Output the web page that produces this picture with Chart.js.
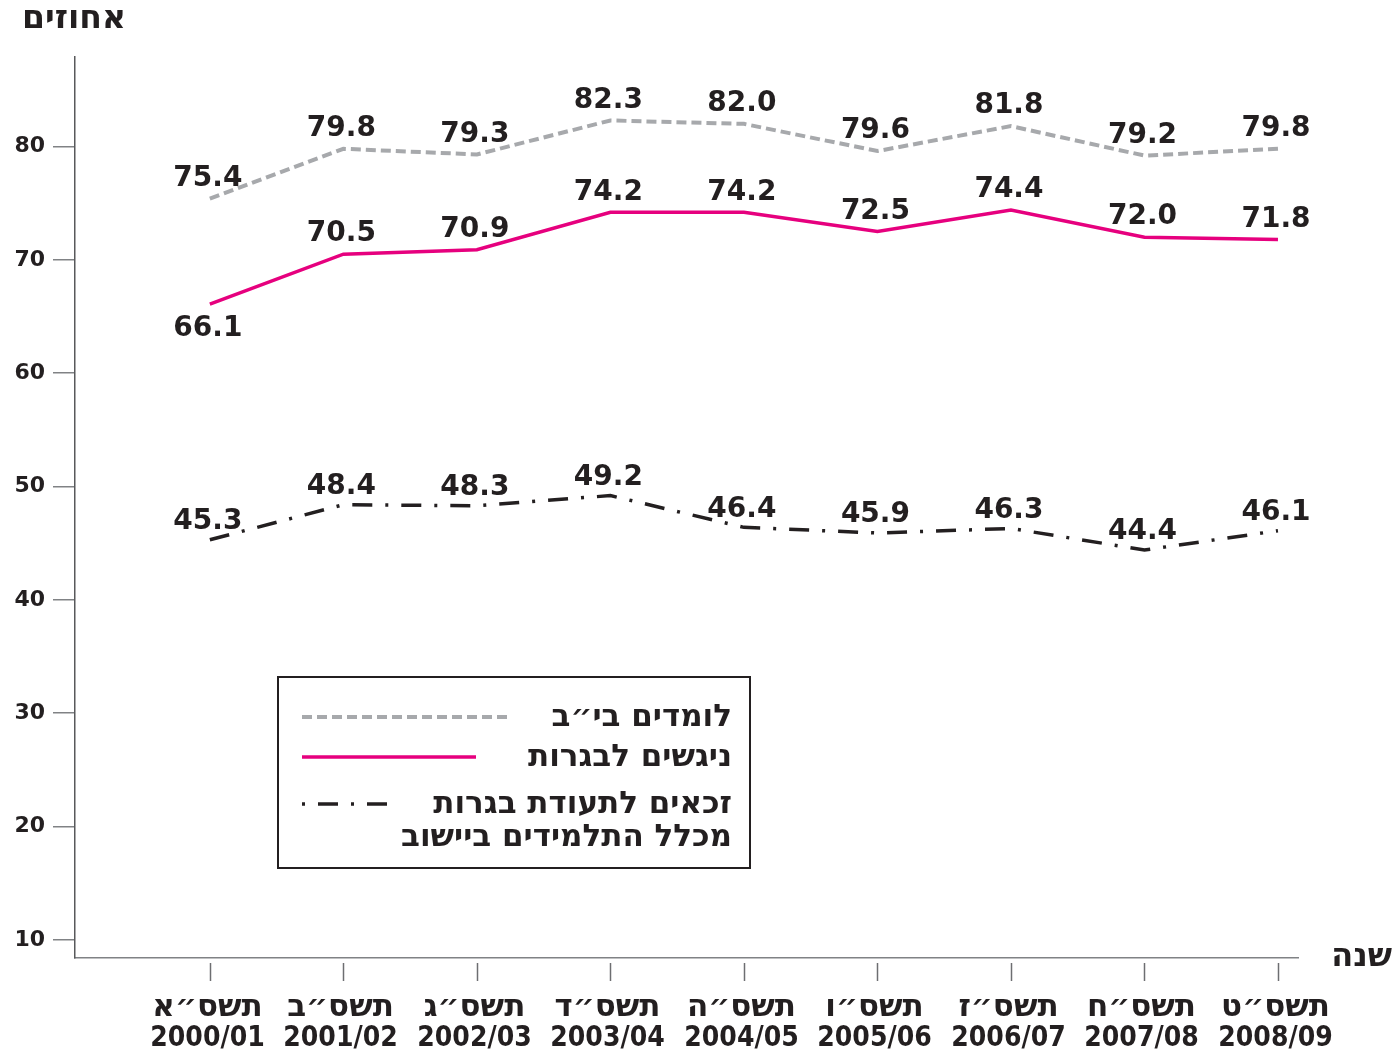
<!DOCTYPE html>
<html lang="he">
<head>
<meta charset="utf-8">
<title>אחוזים</title>
<script src="https://cdn.jsdelivr.net/npm/chart.js@4.4.1/dist/chart.umd.min.js"></script>
<style>
    html, body { margin: 0; padding: 0; background: #ffffff; }
    #wrap { position: relative; width: 1400px; height: 1051px; }
</style>
</head>
<body>
<div id="wrap"><canvas id="eduChart" width="1400" height="1051"></canvas></div>
<script>
// data
const yearHeb = ['תשס״א', 'תשס״ב', 'תשס״ג', 'תשס״ד', 'תשס״ה', 'תשס״ו', 'תשס״ז', 'תשס״ח', 'תשס״ט'];
const yearNum = ['2000/01', '2001/02', '2002/03', '2003/04', '2004/05', '2005/06', '2006/07', '2007/08', '2008/09'];

const learning12 = [75.4, 79.8, 79.3, 82.3, 82.0, 79.6, 81.8, 79.2, 79.8];
const tookExams = [66.1, 70.5, 70.9, 74.2, 74.2, 72.5, 74.4, 72.0, 71.8];
const eligible = [45.3, 48.4, 48.3, 49.2, 46.4, 45.9, 46.3, 44.4, 46.1];

const yTicks = [10, 20, 30, 40, 50, 60, 70, 80];

const legendText = [
    ['לומדים בי״ב'],
    ['ניגשים לבגרות'],
    ['זכאים לתעודת בגרות', 'מכלל התלמידים ביישוב']
];

const INK = '#231f20';
const HEB = "'DejaVu Sans', 'Liberation Sans', sans-serif";

const toPoints = arr => arr.map((v, i) => ({ x: i, y: v }));

// value labels above (or below) each point
const valueLabels = {
    id: 'valueLabels',
    afterDatasetsDraw(chart) {
        const ctx = chart.ctx;
        ctx.save();
        ctx.font = "bold 28px 'DejaVu Sans', sans-serif";
        ctx.fillStyle = INK;
        ctx.textAlign = 'center';
        ctx.textBaseline = 'middle';
        chart.data.datasets.forEach((ds, di) => {
            const meta = chart.getDatasetMeta(di);
            meta.data.forEach((pt, i) => {
                let dy = ds.labelOffset;
                if (ds.firstBelow && i === 0) dy = 25;
                ctx.fillText(ds.data[i].y.toFixed(1), pt.x - 2, pt.y + dy);
            });
        });
        ctx.restore();
    }
};

// detached tick marks and two-font labels under the x axis, axis titles, boxed legend
const extras = {
    id: 'extras',
    afterDraw(chart) {
        const ctx = chart.ctx;
        const area = chart.chartArea;
        const xs = chart.scales.x;
        ctx.save();

        ctx.strokeStyle = '#6d6e71';
        ctx.lineWidth = 1.5;
        ctx.fillStyle = INK;
        ctx.textAlign = 'center';
        ctx.textBaseline = 'middle';
        yearNum.forEach((yr, i) => {
            const px = Math.round(xs.getPixelForValue(i)) + 0.5;
            ctx.beginPath();
            ctx.moveTo(px, area.bottom + 5);
            ctx.lineTo(px, area.bottom + 23);
            ctx.stroke();

            ctx.font = 'bold 31px ' + HEB;
            ctx.fillText(yearHeb[i], px - 3, area.bottom + 50);
            ctx.font = "bold 28px 'Liberation Sans Narrow', 'DejaVu Sans Condensed', sans-serif";
            ctx.fillText(yr, px - 3, area.bottom + 81);
        });

        ctx.direction = 'rtl';
        ctx.textAlign = 'right';
        ctx.font = 'bold 33px ' + HEB;
        ctx.fillText('אחוזים', 126, 19);
        ctx.font = 'bold 32px ' + HEB;
        ctx.fillText('שנה', 1392, 958);

        // legend box
        ctx.strokeStyle = INK;
        ctx.lineWidth = 2;
        ctx.strokeRect(278, 677, 472, 191);

        const rows = [717, 757, 804];
        const ends = [508, 476, 400];
        ctx.font = 'bold 31px ' + HEB;
        chart.data.datasets.forEach((ds, di) => {
            ctx.save();
            ctx.strokeStyle = ds.borderColor;
            ctx.lineWidth = ds.borderWidth;
            ctx.setLineDash(ds.borderDash || []);
            ctx.lineDashOffset = ds.legendDashOffset || 0;
            ctx.beginPath();
            ctx.moveTo(302, rows[di]);
            ctx.lineTo(ends[di], rows[di]);
            ctx.stroke();
            ctx.restore();

            legendText[di].forEach((t, li) => {
                ctx.fillText(t, 732, rows[di] + 1 + li * 33);
            });
        });
        ctx.restore();
    }
};

const ctx = document.getElementById('eduChart').getContext('2d');
new Chart(ctx, {
    type: 'line',
    data: {
        datasets: [{
            label: legendText[0][0],
            data: toPoints(learning12),
            borderColor: '#a7a9ac',
            borderWidth: 4,
            borderDash: [10, 5],
            labelOffset: -20
        }, {
            label: legendText[1][0],
            data: toPoints(tookExams),
            borderColor: '#e6007e',
            borderWidth: 3.5,
            labelOffset: -20,
            firstBelow: true
        }, {
            label: legendText[2].join(' '),
            data: toPoints(eligible),
            borderColor: INK,
            borderWidth: 3.5,
            borderDash: [20, 13, 3, 13],
            legendDashOffset: 33,
            labelOffset: -18
        }]
    },
    options: {
        responsive: false,
        animation: false,
        layout: { padding: { top: 57, right: 102, left: 0, bottom: 0 } },
        elements: {
            point: { radius: 0, hoverRadius: 0 },
            line: { tension: 0, fill: false, borderCapStyle: 'butt' }
        },
        plugins: {
            legend: { display: false },
            tooltip: { enabled: false }
        },
        scales: {
            x: {
                type: 'linear',
                min: -1.01,
                max: 8.15,
                afterFit: s => { s.height = 93; },
                afterBuildTicks: s => { s.ticks = yearNum.map((_, i) => ({ value: i })); },
                grid: { display: false, drawTicks: false },
                border: { display: true, color: '#808285', width: 1.5 },
                ticks: { display: false }
            },
            y: {
                min: 8.4,
                max: 87.9,
                afterFit: s => { s.width = 75; },
                afterBuildTicks: s => { s.ticks = yTicks.map(v => ({ value: v })); },
                grid: { drawOnChartArea: false, drawTicks: true, tickLength: 22, color: '#808285', lineWidth: 1.5 },
                border: { display: true, color: '#58595b', width: 1.5 },
                ticks: {
                    padding: 8,
                    color: INK,
                    font: { family: "'DejaVu Sans', sans-serif", size: 22, weight: 'bold' }
                }
            }
        }
    },
    plugins: [valueLabels, extras]
});
</script>
</body>
</html>
